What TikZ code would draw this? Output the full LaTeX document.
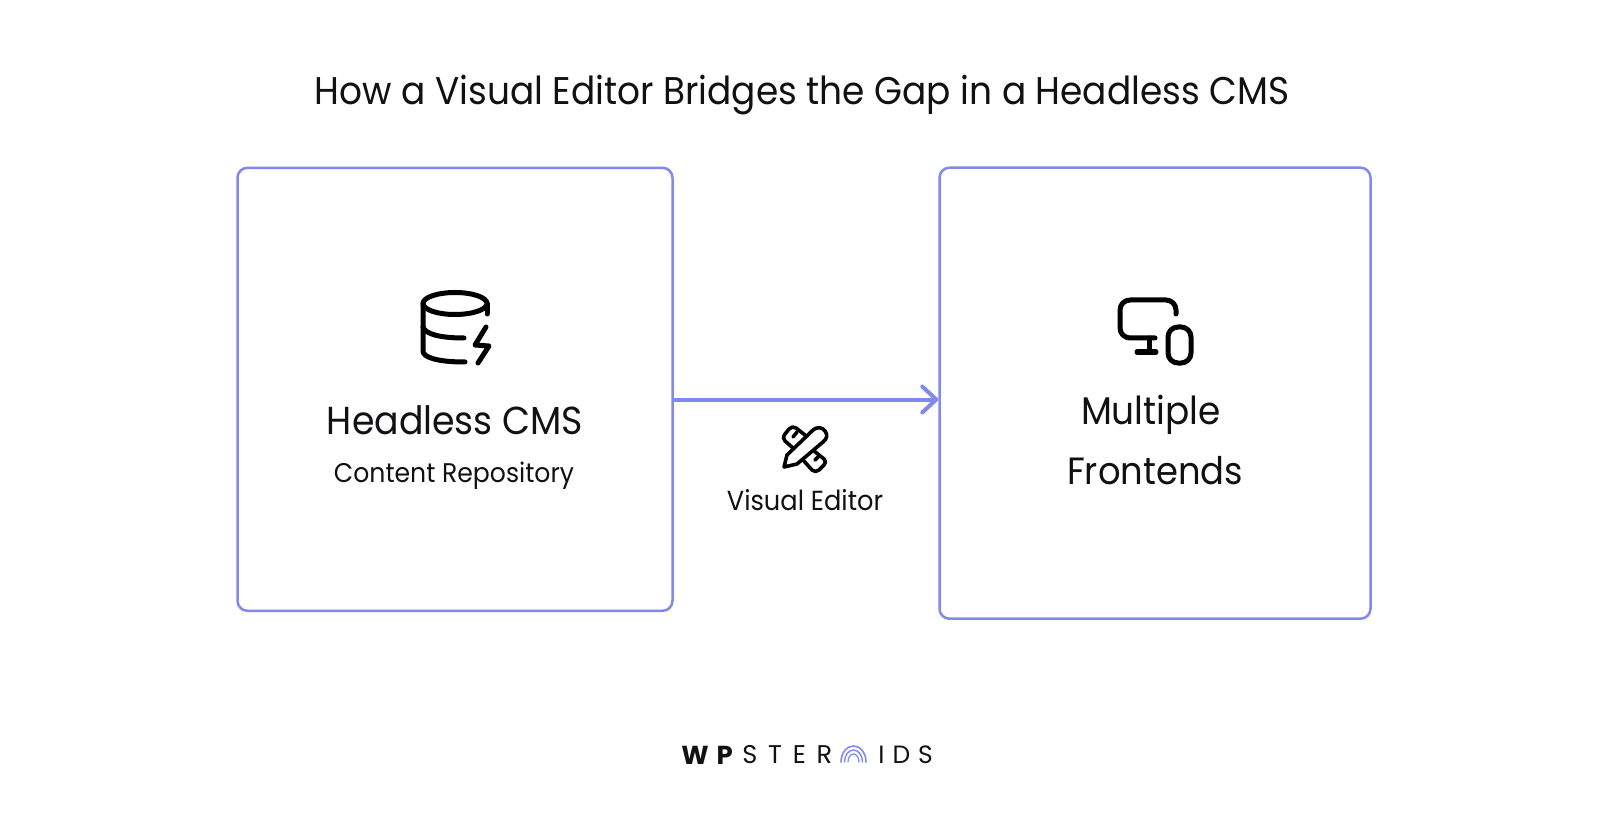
\documentclass[tikz,border=0pt]{standalone}
\usepackage{fontspec}
\setmainfont{Poppins}[FakeStretch=0.93]
\newfontfamily\logoBold{Poppins}[LetterSpace=30]
\newfontfamily\logoWide{Poppins}[LetterSpace=42]
\newfontfamily\logoThin{Poppins}[LetterSpace=32]
\usetikzlibrary{arrows.meta}
\definecolor{boxBlue}{HTML}{8089EE}
\definecolor{inkBlack}{HTML}{111114}
\tikzset{
  boxNode/.style = {draw=boxBlue, line width=1.25pt, rounded corners=5pt, inner sep=0pt},
  textNode/.style = {align=center, inner sep=0pt, text=inkBlack},
  iconLine/.style = {draw=black, line width=2.5pt, line cap=round, line join=round},
  iconThin/.style = {draw=black, line width=1.8pt, line cap=round, line join=round},
  archLine/.style = {draw=boxBlue, line cap=round}
}

\begin{document}
\begin{tikzpicture}[x=0.5pt,y=-0.5pt]
\useasboundingbox (0,0) rectangle (1612,818);
\fill[white] (0,0) rectangle (1612,818);

\node[textNode,font=\fontsize{19.3}{24}\selectfont] (title) at (802,95) {How a Visual Editor Bridges the Gap in a Headless CMS};

\node[boxNode,minimum width=217.5pt,minimum height=221.5pt] (cmsBox) at (455,389.3) {};
\node[boxNode,minimum width=215.5pt,minimum height=225.5pt] (frontBox) at (1155,393.2) {};
\coordinate (arrowRow) at (800,399.5);
\draw[draw=boxBlue,line width=2pt,-{Straight Barb[length=7pt,width=13pt,line width=2pt,round]}]
  (cmsBox.east |- arrowRow) -- (frontBox.west |- arrowRow);

\node[textNode,font=\fontsize{19.5}{24}\selectfont] (cmsName) at (455,420) {Headless CMS};
\node[textNode,font=\fontsize{13.5}{16}\selectfont] (cmsSub) at (454,476) {Content Repository};
\node[textNode,font=\fontsize{19.3}{24}\selectfont] (frontTop) at (1151,415) {Multiple};
\node[textNode,font=\fontsize{19}{24}\selectfont] (frontLow) at (1155,471) {Frontends};
\node[textNode,font=\fontsize{13.8}{16}\selectfont] (editorName) at (805,500.5) {Visual Editor};

% database icon
\draw[iconLine] (455,303.5) ellipse (32 and 11);
\draw[iconLine] (423,303.5) -- (423,351) .. controls (423,357) and (436,362) .. (465,362);
\draw[iconLine] (423,327) .. controls (425,334) and (440,338) .. (464,338);
\draw[iconLine] (487,303.5) -- (487,314);
\draw[iconLine] (486,327) -- (475,345) -- (489,346) -- (478,363);

% screen icon
\draw[iconLine,rounded corners=5pt] (1176,314) -- (1176,300) -- (1120,300) -- (1120,338) -- (1155,338);
\draw[iconLine] (1149,338) -- (1149,352);
\draw[iconLine] (1137,352) -- (1156,352);
\draw[iconLine,rounded corners=5pt] (1168,327) rectangle (1191,363);

% ruler and pencil icon
\draw[iconThin] (784,467) -- (787,455) -- (812,431) .. controls (817,426) and (822,427) .. (825,431)
  .. controls (828,435) and (827,439) .. (823,442) -- (797,464) -- cycle;
\draw[iconThin] (805,435) -- (796,428) .. controls (794,426) and (791,427) .. (789,429) -- (785,434)
  .. controls (783,437) and (783,439) .. (785,441) -- (793,448);
\draw[iconThin] (797,432) -- (793,437);
\draw[iconThin] (814,451) -- (824,459) .. controls (826,461) and (826,463) .. (824,465) -- (819,470)
  .. controls (817,472) and (814,472) .. (812,470) -- (803,460);
\draw[iconThin] (819,456) -- (815,460);

% logo
\node[textNode,anchor=west,font=\logoBold\bfseries\fontsize{13}{14}\selectfont] (logoLeft) at (681,755) {WP};
\node[textNode,anchor=west,font=\logoWide\fontsize{12.8}{14}\selectfont] (logoMid) at (742,755) {STER};
\node[textNode,anchor=west,font=\logoThin\fontsize{12.5}{14}\selectfont] (logoEnd) at (878,755) {IDS};
\draw[archLine,line width=0.8pt] (841,762) arc (180:360:12.5 and 16);
\draw[archLine,line width=0.7pt] (844.5,762) arc (180:360:9 and 12);
\draw[archLine,line width=0.6pt] (848,762) arc (180:360:5.5 and 8);
\end{tikzpicture}
\end{document}
